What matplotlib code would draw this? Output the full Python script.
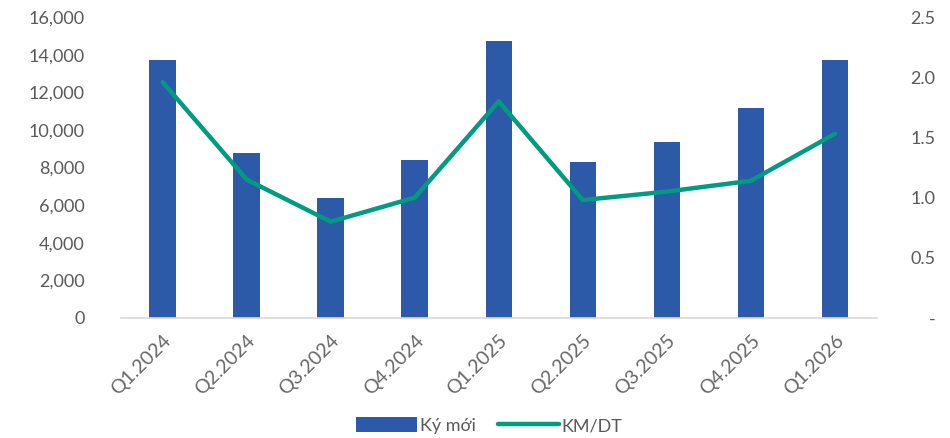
import matplotlib
matplotlib.use("Agg")
import matplotlib.pyplot as plt
from matplotlib.ticker import FuncFormatter

plt.rcParams['font.family'] = ['Lato', 'DejaVu Sans']

categories = ["Q1.2024", "Q2.2024", "Q3.2024", "Q4.2024", "Q1.2025",
              "Q2.2025", "Q3.2025", "Q4.2025", "Q1.2026"]
ky_moi = [13700, 8760, 6360, 8380, 14740, 8310, 9340, 11150, 13700]
km_dt = [1.96, 1.15, 0.80, 1.00, 1.80, 0.98, 1.05, 1.14, 1.53]

bar_color = "#2C5AA8"
line_color = "#009B80"
text_color = "#595959"

fig = plt.figure(figsize=(9.5, 4.38), dpi=100)
ax = fig.add_axes([0.127, 0.274, 0.796, 0.687])
ax2 = ax.twinx()

x = list(range(len(categories)))
b = ax.bar(x, ky_moi, width=0.315, color=bar_color, label="Ký mới", zorder=2)
l, = ax2.plot(x, km_dt, color=line_color, linewidth=3.2, label="KM/DT",
              solid_capstyle="round", zorder=3)

ax.set_xlim(-0.5, len(categories) - 0.5)
ax.set_ylim(0, 16000)
ax.set_yticks(range(0, 16001, 2000))
ax.yaxis.set_major_formatter(FuncFormatter(lambda v, p: f"{int(v):,}"))
ax2.set_ylim(0, 2.5)
ax2.set_yticks([0, 0.5, 1.0, 1.5, 2.0, 2.5])
ax2.yaxis.set_major_formatter(FuncFormatter(lambda v, p: "-" if v == 0 else f"{v:.1f}"))

ax.set_xticks(x)
ax.set_xticklabels(categories, rotation=45, ha="right", rotation_mode="anchor")

for a in (ax, ax2):
    for s in a.spines.values():
        s.set_visible(False)
    a.tick_params(length=0, colors=text_color, labelsize=13)
ax.spines['bottom'].set_visible(True)
ax.spines['bottom'].set_color("#D9D9D9")
ax.spines['bottom'].set_linewidth(1.2)
ax.tick_params(axis='x', pad=10, labelsize=14, colors="#666666")
ax.tick_params(axis='y', pad=26)
ax2.tick_params(axis='y', pad=42)
for t in ax2.get_yticklabels():
    t.set_ha("right")

ax2.set_zorder(ax.get_zorder() + 1)
ax2.patch.set_visible(False)

fig.legend([b, l], ["Ký mới", "KM/DT"], loc="center", bbox_to_anchor=(0.515, 0.028),
           ncol=2, frameon=False, fontsize=13, labelcolor=text_color,
           handlelength=3.4, handleheight=0.9, columnspacing=1.2, handletextpad=0.15)

fig.savefig("out.png", dpi=100)
